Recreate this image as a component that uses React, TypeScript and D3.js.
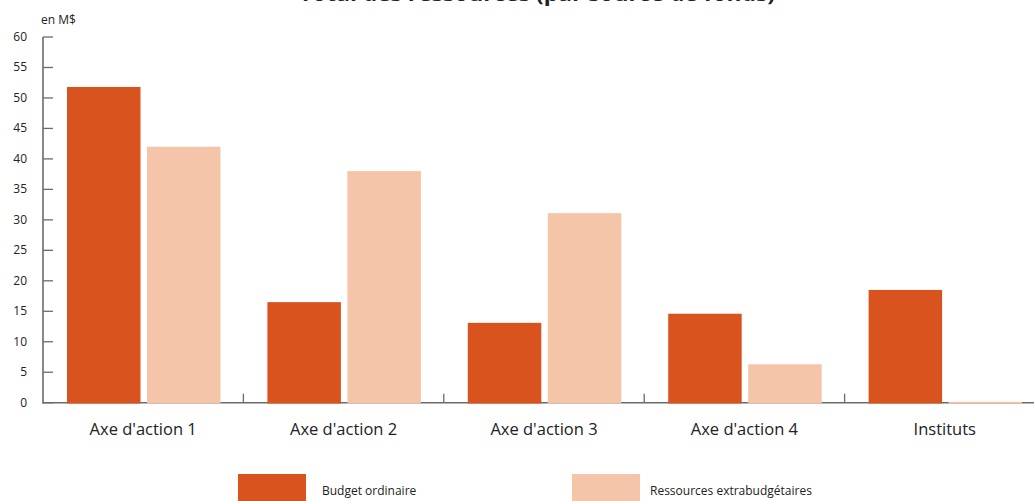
import React from "react";
import * as d3 from "d3";

// Categories and series (values in millions of dollars)
const categories = ["Axe d'action 1", "Axe d'action 2", "Axe d'action 3", "Axe d'action 4", "Instituts"];
const seriesNames = ["Budget ordinaire", "Ressources extrabudgétaires"];
const budgetOrdinaire = [51.8, 16.5, 13.1, 14.6, 18.5];
const ressourcesExtra = [42.0, 38.0, 31.1, 6.3, 0.15];
const yTicks = [0, 5, 10, 15, 20, 25, 30, 35, 40, 45, 50, 55, 60];
const colors = ["#D9531E", "#F4C5A8"];

const W = 1034;
const H = 501;
const FONT = "'Open Sans', 'DejaVu Sans', sans-serif";

export default function App() {
  const x0 = 43;
  const x1 = 1045;
  const yBase = 402.7;
  const yTop = 37;

  const x = d3.scaleBand<string>().domain(categories).range([x0, x1]).paddingInner(0).paddingOuter(0);
  const step = x.bandwidth();
  const xInner = d3
    .scaleBand<string>()
    .domain(seriesNames)
    .range([24, 24 + 153.5])
    .paddingInner(0.08125)
    .paddingOuter(0);
  const y = d3.scaleLinear().domain([0, 60]).range([yBase, yTop]);

  const data = [budgetOrdinaire, ressourcesExtra];
  const axisColor = "#6b6b6b";
  const legendX = [238, 572];
  const legendTextX = [322, 650];

  return (
    <svg
      width={W}
      height={H}
      style={{ position: "absolute", left: 0, top: 0, background: "#fff" }}
      fontFamily={FONT}
    >
      {/* title, mostly above the top edge */}
      <text
        x={537}
        y={0.8}
        textAnchor="middle"
        fontSize={19}
        fontWeight="bold"
        fill="#222"
        textLength={476}
        lengthAdjust="spacingAndGlyphs"
      >
        Total des ressources (par source de fonds)
      </text>

      {/* unit label */}
      <text x={41} y={24} fontSize={12} fill="#222">
        en M$
      </text>

      {/* y axis */}
      <line x1={x0} x2={x0} y1={yTop} y2={yBase + 1} stroke={axisColor} strokeWidth={1.6} />
      {yTicks.map((t) => (
        <g key={t}>
          <line x1={x0} x2={x0 + 10} y1={y(t)} y2={y(t)} stroke={axisColor} strokeWidth={1.3} />
          <text x={27} y={y(t) + 4} textAnchor="end" fontSize={12} fill="#222">
            {t}
          </text>
        </g>
      ))}

      {/* x axis */}
      <line x1={x0} x2={W} y1={yBase} y2={yBase} stroke={axisColor} strokeWidth={1.6} />
      {categories.slice(1).map((c) => (
        <line
          key={c}
          x1={x(c)!}
          x2={x(c)!}
          y1={yBase}
          y2={yBase - 9}
          stroke={axisColor}
          strokeWidth={1.3}
        />
      ))}

      {/* bars */}
      {categories.map((c, i) => (
        <g key={c} transform={`translate(${x(c)},0)`}>
          {seriesNames.map((s, si) => {
            const v = data[si][i];
            return (
              <rect
                key={s}
                x={xInner(s)!}
                y={y(v)}
                width={xInner.bandwidth()}
                height={yBase + 0.8 - y(v)}
                fill={colors[si]}
              />
            );
          })}
          <text x={step / 2} y={435} textAnchor="middle" fontSize={16.5} fill="#222">
            {c}
          </text>
        </g>
      ))}

      {/* legend */}
      {seriesNames.map((s, si) => (
        <g key={s}>
          <rect x={legendX[si]} y={474} width={68} height={30} fill={colors[si]} />
          <text x={legendTextX[si]} y={495} fontSize={12} fill="#222">
            {s}
          </text>
        </g>
      ))}
    </svg>
  );
}
